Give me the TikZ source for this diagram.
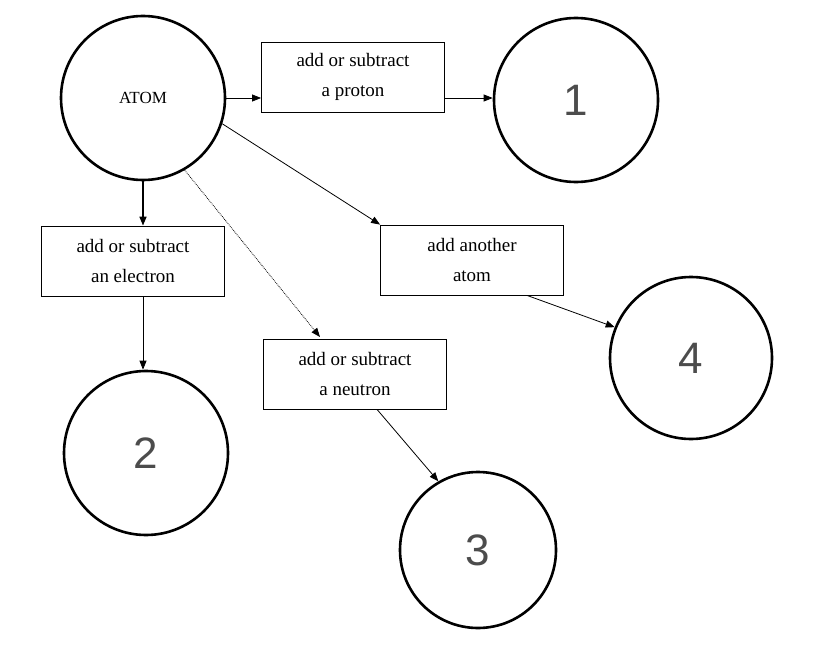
\documentclass[tikz,border=0pt]{standalone}
\usepackage{fontspec}
\setmainfont{Liberation Serif}
\newfontfamily\numfont{Liberation Sans}
\usetikzlibrary{arrows.meta}
\begin{document}
\begin{tikzpicture}[x=1pt,y=-1pt,
  circ/.style={circle,draw,line width=2.6pt,inner sep=0pt},
  numtxt/.style={font=\numfont\fontsize{44}{48}\selectfont,text=black!70},
  boxn/.style={draw,line width=0.8pt,minimum width=183pt,minimum height=70pt,align=center,font=\fontsize{19}{30}\selectfont,inner sep=0pt},
  arr/.style={-{Triangle[length=9pt,width=7pt]},line width=0.8pt}]
\useasboundingbox (0,0) rectangle (816,666);
\node[circ,minimum size=164pt,font=\fontsize{17}{20}\selectfont] (atom) at (143,98) {ATOM};
\node[circ,minimum size=164pt,numtxt] (c1) at (576,100) {1};
\node[circ,minimum size=164pt,numtxt] (c2) at (146,453) {2};
\node[circ,minimum size=156pt,numtxt] (c3) at (478,550) {3};
\node[circ,minimum size=162pt,numtxt] (c4) at (691,358) {4};
\node[boxn] (bp) at (353,77) {add or subtract\\a proton};
\node[boxn] (be) at (133,261) {add or subtract\\an electron};
\node[boxn] (ba) at (472,260) {add another\\atom};
\node[boxn] (bn) at (355,374) {add or subtract\\a neutron};
\draw[arr] (atom.east |- 0,98) -- (bp.west |- 0,98);
\draw[arr] (bp.east |- 0,98) -- (c1.west |- 0,98);
\draw[arr,line width=1.6pt] (atom.south -| 143,0) -- (be.north -| 143,0);
\draw[arr] (be.south -| 143,0) -- (c2.north -| 143,0);
\draw[arr] (atom.-18) -- (ba.north west);
\draw[arr,densely dotted] (atom.-60) -- (320,337);
\draw[arr] (ba.south -| 527,0) -- (c4.158);
\draw[arr] (bn.south -| 377,0) -- (c3.120);
\end{tikzpicture}
\end{document}
